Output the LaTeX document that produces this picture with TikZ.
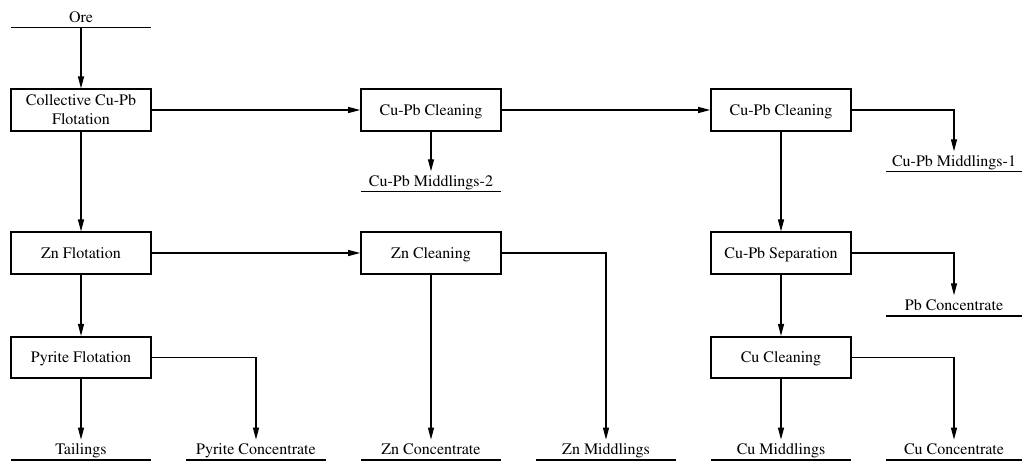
\documentclass[tikz,border=0pt]{standalone}
\usepackage[T1]{fontenc}
\usepackage{mathptmx}
\usetikzlibrary{arrows.meta}
\tikzset{
  unit/.style={draw, line width=1.6pt, minimum width=140pt, minimum height=41.5pt, inner sep=0pt, text depth=0pt, align=center, font=\fontsize{16}{19}\selectfont},
  prod/.style={inner sep=0pt, minimum width=140pt, text height=14.5pt, text depth=5.5pt, font=\fontsize{16}{19}\selectfont},
  prodline/.style={line width=1.4pt},
  flow/.style={line width=1.2pt, -{Triangle[length=12pt,width=6pt]}},
}
\begin{document}
\begin{tikzpicture}[x=1pt,y=-1pt]
\useasboundingbox (0,0) rectangle (1022,461);
% units
\node[unit] (cf) at (81,110) {Collective Cu-Pb\\Flotation};
\node[unit] (cc1) at (431,110) {Cu-Pb Cleaning};
\node[unit] (cc2) at (781,110) {Cu-Pb Cleaning};
\node[unit] (zf) at (81,253) {Zn Flotation};
\node[unit] (zc) at (431,253) {Zn Cleaning};
\node[unit] (sep) at (781,253) {Cu-Pb Separation};
\node[unit] (pf) at (81,357.5) {Pyrite Flotation};
\node[unit] (cuc) at (781,357.5) {Cu Cleaning};
% products (node south = underline)
\node[prod, anchor=south] (ore) at (81,27.7) {Ore};
\node[prod, anchor=south] (mid2) at (431,191.7) {Cu-Pb Middlings-2};
\node[prod, anchor=south, minimum width=136pt] (mid1) at (954,171.7) {Cu-Pb Middlings-1};
\node[prod, anchor=south, minimum width=136pt] (pbc) at (954,315.7) {Pb Concentrate};
\node[prod, anchor=south] (tail) at (81,460) {Tailings};
\node[prod, anchor=south] (pyc) at (256,460) {Pyrite Concentrate};
\node[prod, anchor=south] (znc) at (431,460) {Zn Concentrate};
\node[prod, anchor=south] (znm) at (606,460) {Zn Middlings};
\node[prod, anchor=south] (cum) at (781,460) {Cu Middlings};
\node[prod, anchor=south, minimum width=136pt] (cuconc) at (954,460) {Cu Concentrate};
% underlines
\foreach \n in {ore,mid2,mid1,tail,pyc,znc,znm,cum,cuconc}
  \draw[prodline] (\n.south west) -- (\n.south east);
\draw[line width=2.2pt] (pbc.south west) -- (pbc.south east);
% flows
\draw[flow] (ore.south) -- (cf.north);
\draw[flow] (cf.east) -- (cc1.west);
\draw[flow] (cc1.east) -- (cc2.west);
\draw[flow] (cc1.south) -- (mid2.north);
\draw[flow] (cc2.east) -| (mid1.north);
\draw[flow] (cc2.south) -- (sep.north);
\draw[flow] (cf.south) -- (zf.north);
\draw[flow] (zf.east) -- (zc.west);
\draw[flow] (zc.south) -- (znc.north);
\draw[flow] (zc.east) -| (znm.north);
\draw[flow] (sep.east) -| (pbc.north);
\draw[flow] (sep.south) -- (cuc.north);
\draw[flow] (zf.south) -- (pf.north);
\draw[flow] (pf.south) -- (tail.north);
\draw[flow] (pf.east) -| (pyc.north);
\draw[flow] (cuc.south) -- (cum.north);
\draw[flow] (cuc.east) -| (cuconc.north);
\end{tikzpicture}
\end{document}
